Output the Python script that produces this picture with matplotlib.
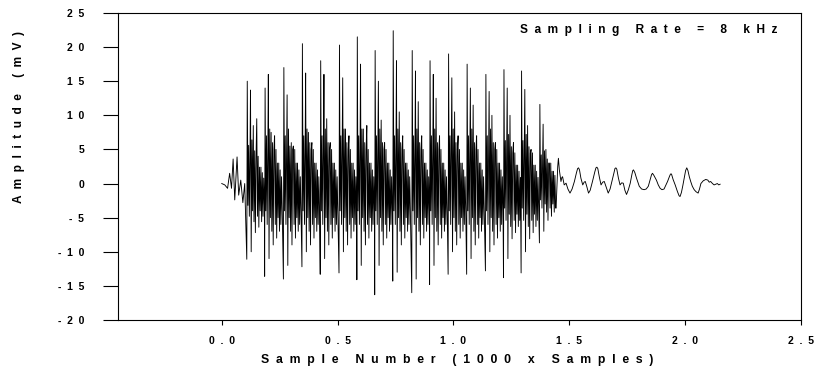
import matplotlib.pyplot as plt
import numpy as np

plt.rcParams['font.family'] = ['Liberation Sans', 'DejaVu Sans']

# onset before the first glottal pulse (sample index, mV)
onset_sample = [0, 13, 25, 34, 42, 49, 56, 66, 73, 82, 91, 99]
onset_mv = [0.0, -0.2, -0.7, 1.5, -0.7, 3.6, -2.4, 3.9, -1.7, 0.5, -2.8, 0.0]

# voiced part, one entry per pulse
pulse_start = [108, 185, 266, 346, 425, 506, 583, 660, 738, 820, 897, 977, 1057, 1138, 1216, 1292, 1371]
pulse_peak1 = [15.0, 14.0, 17.0, 20.5, 18.0, 20.3, 21.5, 19.5, 22.4, 19.5, 18.0, 19.0, 17.5, 16.0, 16.7, 16.5, 11.6]
pulse_peak2 = [13.7, 16.0, 13.0, 16.2, 16.0, 15.5, 17.5, 15.0, 18.0, 16.5, 16.0, 15.5, 14.0, 13.5, 14.0, 13.8, 8.7]
pulse_peak3 = [8.5, 7.5, 5.5, 7.5, 9.5, 8.0, 8.0, 9.3, 10.5, 12.0, 12.5, 10.5, 11.5, 10.0, 10.0, 8.5, 5.0]
pulse_peak4 = [9.5, 7.0, 5.5, 6.0, 6.0, 7.0, 8.5, 6.0, 7.0, 7.0, 7.0, 7.0, 7.0, 6.0, 6.0, 5.0, 3.0]
pulse_trough1 = [-11.1, -13.6, -14.0, -12.2, -13.3, -13.1, -14.1, -16.3, -14.3, -16.0, -14.8, -13.3, -13.3, -12.8, -13.8, -13.1, -8.7]
pulse_trough2 = [-10.0, -11.0, -12.0, -10.0, -11.0, -10.0, -12.0, -12.0, -13.0, -14.0, -12.0, -10.0, -11.0, -10.0, -11.0, -10.0, -7.0]
pulse_level = [0.8, 1.0, 1.0, 1.0, 1.0, 1.0, 1.0, 1.0, 1.0, 1.0, 1.0, 1.0, 1.0, 1.0, 0.9, 0.9, 0.6]

# typical ripple inside one pulse (offset in samples, mV)
ripple_offset = [0, 2, 5, 8, 11, 14, 16, 19, 22, 25, 28, 31, 34, 37, 40, 43, 46, 49, 52, 55,
                 58, 61, 64, 67, 70, 73, 76]
ripple_mv = [0, 0, -4, 7, -6, 6, 0, 0, 8, -5, 0, -7, 6, -9, 5, 0, -6, 5, -8, 3,
             -5, 3, -7, 2, -6, 1, -4]

# decaying tail after voicing (sample index, mV)
tail_sample = [1443, 1450, 1453, 1457, 1464, 1468, 1471, 1475, 1478, 1486, 1494, 1503, 1512, 1522,
               1531, 1536, 1540, 1544, 1550, 1558, 1564, 1569, 1576, 1583, 1590, 1600, 1610, 1615,
               1619, 1623, 1630, 1637, 1644, 1651, 1660, 1668, 1676, 1684, 1693, 1697, 1701, 1705,
               1712, 1719, 1726, 1733, 1740, 1747, 1755, 1763, 1770, 1774, 1777, 1783, 1790, 1796,
               1802, 1812, 1823, 1832, 1841, 1850, 1855, 1859, 1865, 1876, 1884, 1892, 1900, 1909,
               1916, 1924, 1933, 1937, 1941, 1948, 1957, 1967, 1974, 1978, 1984, 1990, 1996, 2002,
               2007, 2012, 2018, 2024, 2031, 2039, 2047, 2056, 2062, 2068, 2078, 2089, 2098, 2104,
               2110, 2118, 2125, 2132, 2139, 2145, 2151]
tail_mv = [-3.6, 2.5, 3.7, 2.0, 0.3, 0.9, 1.0, 0.3, -0.2, 0.05, -0.8, -1.4, -0.8, 0.3,
           1.6, 2.2, 2.3, 2.0, 0.8, -0.2, 0.2, 0.3, -0.5, -1.4, -1.0, 0.3, 1.7, 2.3,
           2.4, 2.2, 0.9, -0.2, 0.2, 0.3, -0.6, -1.4, -0.8, 0.3, 1.6, 2.2, 2.3, 2.1,
           0.8, -0.2, 0.1, 0.05, -1.0, -1.6, -0.9, 0.05, 1.3, 1.9, 2.0, 1.6, 0.8, 0.2,
           -0.4, -0.8, -0.9, -0.8, -0.4, 0.7, 1.3, 1.5, 1.2, 0.5, -0.2, -0.7, -0.9, -0.8,
           -0.3, 0.3, 1.1, 1.4, 1.4, 0.6, -0.2, -1.2, -1.8, -1.9, -1.3, -0.3, 0.8, 1.9,
           2.3, 1.9, 1.0, 0.3, -0.4, -0.9, -1.2, -1.4, -0.8, 0.0, 0.4, 0.6, 0.5, 0.2,
           0.3, 0.0, -0.2, -0.1, 0.0, -0.2, -0.1]

samples = list(onset_sample)
mv = list(onset_mv)
for i, start in enumerate(pulse_start):
    stop = pulse_start[i + 1] if i + 1 < len(pulse_start) else tail_sample[0]
    vals = [v * pulse_level[i] for v in ripple_mv]
    vals[0] = pulse_trough1[i]
    vals[1] = pulse_peak1[i]
    vals[6] = pulse_peak2[i]
    vals[7] = pulse_trough2[i]
    vals[10] = pulse_peak3[i]
    vals[15] = pulse_peak4[i]
    for off, v in zip(ripple_offset, vals):
        if start + off < stop:
            samples.append(start + off)
            mv.append(v)
samples += tail_sample
mv += tail_mv

x = np.array(samples) / 1000.0


def spaced(s):
    return "  ".join(s)


fig = plt.figure(figsize=(8.17, 3.71), dpi=100)
ax = fig.add_axes([0.1444, 0.1375, 0.836, 0.8275])
ax.plot(x, mv, color='black', lw=0.65)

ax.set_xlim(-0.448, 2.5)
ax.set_ylim(-20, 25)
yt = [25, 20, 15, 10, 5, 0, -5, -10, -15, -20]
xt = [0.0, 0.5, 1.0, 1.5, 2.0, 2.5]
ax.set_yticks(yt)
ax.set_yticklabels([spaced(str(v)) for v in yt], fontsize=7.5, fontweight='bold')
ax.set_xticks(xt)
ax.set_xticklabels([spaced("%.1f" % v) for v in xt], fontsize=7.5, fontweight='bold')
ax.tick_params(axis='y', direction='out', length=10.8, width=0.8, pad=13.5)
ax.tick_params(axis='x', direction='out', length=3.6, width=0.8, pad=8)
for s in ax.spines.values():
    s.set_linewidth(0.8)

fig.text(0.952, 0.919, spaced("Sampling Rate = 8 kHz"), ha='right', va='center',
         fontsize=8.6, fontweight='bold')
fig.text(19 / 817, 0.685, spaced("Amplitude (mV)"), rotation=90, ha='center', va='center',
         fontsize=8.6, fontweight='bold')
fig.text(457 / 817, 0.0296, spaced("Sample Number (1000 x Samples)"), ha='center', va='center',
         fontsize=8.8, fontweight='bold')

fig.savefig("out.png", dpi=100)
